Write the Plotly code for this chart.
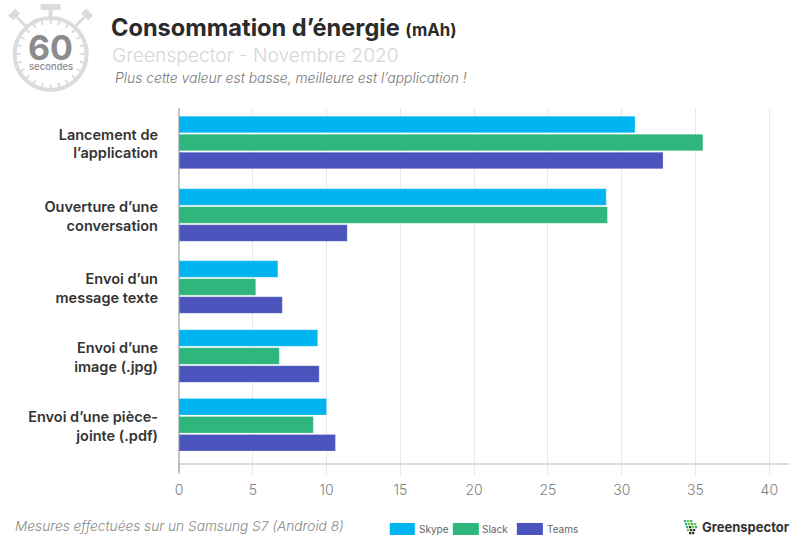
import math
import plotly.graph_objects as go

categories = ["Lancement de<br>l’application", "Ouverture d’une<br>conversation", "Envoi d’un<br>message texte",
              "Envoi d’une<br>image (.jpg)", "Envoi d’une pièce-<br>jointe (.pdf)"]
skype = [30.9, 28.95, 6.7, 9.4, 10.0]
slack = [35.5, 29.03, 5.2, 6.8, 9.1]
teams = [32.8, 11.4, 7.0, 9.5, 10.6]
x_ticks = [0, 5, 10, 15, 20, 25, 30, 35, 40]

# layout of the rows (the reference spaces its groups slightly unevenly)
group_rows = [0, 1.007, 2.007, 2.965, 3.92]
series = [("Skype", skype, "#00B5EF", -0.25), ("Slack", slack, "#2FB67C", 0), ("Teams", teams, "#4B54BC", 0.25)]

W, H = 801, 546
L, R, T, B = 179.3, 789, 108, 463
FONT = "Inter"


def px(x):
    return (x - L) / (R - L)


def py(y):
    return (B - y) / (B - T)


fig = go.Figure()
for name, vals, col, off in series:
    fig.add_trace(go.Bar(y=[r + off for r in group_rows], x=vals, name=name, orientation="h", width=0.232,
                         marker=dict(color=col, line=dict(color="rgba(255,255,255,0.25)", width=1)),
                         showlegend=False))

shapes = []


def rect(x0, y0, x1, y1, col, line=None):
    shapes.append(dict(type="rect", xref="paper", yref="paper", x0=px(x0), x1=px(x1), y0=py(y0), y1=py(y1),
                       fillcolor=col, line=dict(width=0, color=col) if line is None else line, layer="above"))


def seg(x0, y0, x1, y1, col, w):
    shapes.append(dict(type="line", xref="paper", yref="paper", x0=px(x0), x1=px(x1), y0=py(y0), y1=py(y1),
                       line=dict(color=col, width=w), layer="above"))


# y axis line
seg(L, 108, L, 473, "#8a8a8a", 1)

# stopwatch
GR = "#dcdcdc"
cx, cy, r = 51, 54, 36
shapes.append(dict(type="circle", xref="paper", yref="paper", x0=px(cx - r), x1=px(cx + r), y0=py(cy - r), y1=py(cy + r),
                   line=dict(color=GR, width=4), layer="above"))
for i in range(24):
    a = 2 * math.pi * i / 24
    seg(cx + (r - 6) * math.cos(a), cy + (r - 6) * math.sin(a), cx + r * math.cos(a), cy + r * math.sin(a), GR, 2)
seg(41, 7, 61, 7, GR, 6)
seg(51, 8, 51, 17, GR, 4)
seg(17, 17, 26, 26, GR, 3)
seg(85, 17, 76, 26, GR, 3)
seg(11, 18, 18, 11, GR, 7)
seg(91, 18, 84, 11, GR, 7)

# legend swatches
legend_x = [(390, 415, "Skype", 418), (453, 479, "Slack", 481), (517, 543, "Teams", 546)]
annots = []


def text(x, y, s, size, col, anchor="left", **f):
    annots.append(dict(xref="paper", yref="paper", x=px(x), y=py(y), text=s, showarrow=False, xanchor=anchor,
                       yanchor="middle", align=anchor, xshift=0, borderpad=0,
                       font=dict(family=FONT, size=size, color=col, **f)))


for (x0, x1, s, tx), (_, _, col, _) in zip(legend_x, series):
    rect(x0, 523, x1, 535, col)
    text(tx, 529, s, 10, "#666666")

# logo mark
pattern = [(0, 0, "#2FB67C"), (3, 0, "#7FBF3F"), (6, 0, "#2FB67C"), (1, 3, "#2FB67C"), (4, 3, "#7FBF3F"), (7, 3, "#2FB67C"),
           (10, 3, "#7FBF3F"), (2, 6, "#2FB67C"), (5, 6, "#333333"), (8, 6, "#7FBF3F"), (11, 6, "#2FB67C"),
           (3, 9, "#7FBF3F"), (6, 9, "#333333"), (9, 9, "#333333"), (5, 12, "#333333"), (8, 12, "#333333")]
for dx, dy, col in pattern:
    rect(684 + dx, 520 + dy, 686.3 + dx, 522.3 + dy, col)

text(110, 27.5, "Consommation d’énergie <span style=\"font-size:16.8px\">(mAh)</span>", 23.6, "#2b2b2b", weight=700)
text(111, 55, "Greenspector - Novembre 2020", 19.2, "#d6d6d6", weight=300)
text(114, 78, "<i>Plus cette valeur est basse, meilleure est l’application !</i>", 13.9, "#777777", weight=300)
text(14, 526, "<i>Mesures effectuées sur un Samsung S7 (Android 8)</i>", 13.7, "#888888", weight=300)
text(51, 47, "60", 34, "#8c8c8c", anchor="center", weight=700)
text(51, 67, "secondes", 9.5, "#8c8c8c", anchor="center", weight=500)
text(701, 527, "Greenspector", 13, "#333333", weight=700)

fig.update_layout(
    width=W, height=H, autosize=False, paper_bgcolor="white", plot_bgcolor="white", barmode="overlay",
    margin=dict(l=L, r=W - R, t=T, b=H - B, pad=0), shapes=shapes, annotations=annots,
    font=dict(family=FONT),
    xaxis=dict(range=[0, (R - L) / 14.75], tickvals=x_ticks, showgrid=True, gridcolor="#e8e8e8", gridwidth=1,
               zeroline=False, showline=True, linecolor="#dadada", linewidth=2, ticks="outside", ticklen=10,
               tickcolor="#e8e8e8", ticklabelstandoff=3,
               tickfont=dict(family=FONT, size=14, color="#808080", weight=300)),
    yaxis=dict(range=[4.451, -0.479], tickvals=[r + 0.02 for r in group_rows], ticktext=categories, showgrid=False,
               zeroline=False, showline=False, ticks="", ticklabelstandoff=20,
               tickfont=dict(family=FONT, size=14.5, color="#333333", weight=600)),
)
fig.write_html("out.html", post_script="document.body.style.margin='0';", config={"displayModeBar": False})
